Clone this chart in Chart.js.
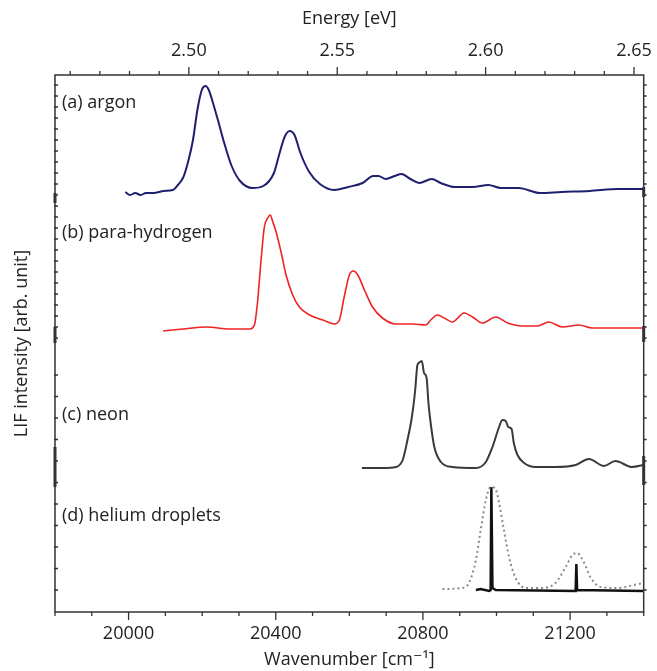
<!DOCTYPE html>
<html><head><meta charset="utf-8">
<script src="https://cdn.jsdelivr.net/npm/chart.js@4"></script>
<style>html,body{margin:0;padding:0;background:#fff;}#wrap{width:657px;height:671px;position:relative;}</style>
</head><body><div id="wrap"><canvas id="c"></canvas></div>
<script>
// ---- data (wavenumber in cm^-1, intensity in arb. units incl. vertical offset) ----
const argonWn = [19991,20004,20018,20033,20047,20067,20096,20120,20134,20149,20163,20175,20187,20199,20209,20218,20231,20245,20260,20279,20303,20337,20366,20395,20409,20424,20438,20451,20467,20491,20520,20559,20597,20636,20665,20679,20699,20723,20742,20766,20790,20824,20848,20887,20935,20978,21012,21060,21118,21176,21253,21331,21398];
const argonI  = [408,405,407,405,407,407,409,410,415,423,440,460,490,510,514,510,495,477,457,435,419,412,414,427,445,463,469,465,447,428,416,410,413,417,424,424,421,424,426,421,417,421,417,413,413,415,412,412,407,408,409,411,411];

const pH2Wn = [20094,20148,20211,20275,20329,20342,20351,20360,20369,20378,20385,20392,20401,20415,20428,20446,20464,20492,20528,20559,20573,20586,20600,20611,20623,20641,20663,20690,20727,20772,20808,20821,20840,20858,20880,20912,20935,20962,20998,21030,21070,21111,21142,21179,21224,21260,21323,21395];
const pH2I  = [269,271,273,271,271,275,300,340,373,382,385,378,368,347,325,305,293,285,280,276,280,303,325,329,325,310,293,282,276,276,275,280,285,282,278,287,283,277,283,277,274,274,278,273,275,272,272,272];

const neonWn = [20634,20690,20727,20745,20758,20770,20779,20785,20792,20797,20803,20810,20815,20821,20831,20849,20880,20944,20971,20989,21007,21016,21025,21032,21041,21047,21057,21075,21106,21160,21215,21251,21292,21323,21368,21400];
const neonI  = [132,132,133,140,160,183,210,235,238,239,227,222,197,177,153,138,133,132,138,153,173,180,179,173,171,157,145,137,133,133,135,141,134,139,133,135];

const heDotWn = [20853,20907,20925,20944,20957,20971,20984,20996,21007,21020,21034,21052,21079,21124,21160,21188,21206,21219,21237,21255,21283,21332,21373,21400];
const heDotI  = [11,12,17,40,70,100,113,112,97,70,43,22,12,12,17,33,45,47,38,23,13,12,15,17];

const heWn = [20944,20957,20980,20984,20986,20989,20998,21215,21217,21219,21400];
const heI  = [10,11,9,10,113,12,10,9,36,10,9];

const panelLabels = ['(a) argon','(b) para-hydrogen','(c) neon','(d) helium droplets'];
const panelLabelY = [497,367,185,84];

const xTicks = [20000,20400,20800,21200];
const eTicks = [2.50,2.55,2.60,2.65];
const EV_TO_CM = 8065.54;
const X_MIN = 19800, X_MAX = 21400;

const pts = (xs, ys) => xs.map((x,i)=>({x, y: ys[i]}));

Chart.defaults.font.family = "'Open Sans', 'DejaVu Sans', sans-serif";
Chart.defaults.color = '#222';

const frame = {
  id: 'frame',
  afterDraw(chart) {
    const {ctx, chartArea: a, scales} = chart;
    const xs = scales.x, xt = scales.x2, ys = scales.y;
    ctx.save();
    ctx.strokeStyle = '#333';
    ctx.lineWidth = 1.5;
    ctx.strokeRect(a.left, a.top, a.right - a.left, a.bottom - a.top);
    ctx.lineWidth = 1.3;
    ctx.beginPath();
    for (let v = X_MIN; v <= X_MAX; v += 100) {
      const x = xs.getPixelForValue(v);
      const L = v % 400 === 0 ? 8 : 4;
      ctx.moveTo(x, a.bottom); ctx.lineTo(x, a.bottom + L);
    }
    for (let k = 246; k <= 265; k++) {
      const x = xt.getPixelForValue(k / 100);
      const L = k % 5 === 0 ? 8 : 4;
      ctx.moveTo(x, a.top); ctx.lineTo(x, a.top - L);
    }
    // y minor ticks
    const yt = [];
    for (let p = a.top + 10; p < a.top + 270; p += 11) yt.push(p);
    for (let p = a.top + 300; p < a.bottom - 5; p += 21.5) yt.push(p);
    yt.forEach(p => {
      ctx.moveTo(a.left - 1, p); ctx.lineTo(a.left + 3, p);
      ctx.moveTo(a.right, p); ctx.lineTo(a.right + 3, p);
    });
    ctx.stroke();
    // thicker overlapping-axis segments
    ctx.lineWidth = 3;
    ctx.beginPath();
    [[407,397],[273,257],[153,113]].forEach(([v1,v2]) => {
      ctx.moveTo(a.left, ys.getPixelForValue(v1)); ctx.lineTo(a.left, ys.getPixelForValue(v2));
    });
    [[413,403],[274,258],[144,115]].forEach(([v1,v2]) => {
      ctx.moveTo(a.right, ys.getPixelForValue(v1)); ctx.lineTo(a.right, ys.getPixelForValue(v2));
    });
    ctx.stroke();
    // panel labels
    ctx.fillStyle = '#222';
    ctx.font = "18px 'Open Sans', sans-serif";
    ctx.textBaseline = 'middle';
    ctx.textAlign = 'left';
    panelLabels.forEach((t, i) => ctx.fillText(t, a.left + 7, ys.getPixelForValue(panelLabelY[i])));
    ctx.restore();
  }
};

const lineBase = {pointRadius: 0, fill: false, cubicInterpolationMode: 'monotone', tension: 0.4};

new Chart(document.getElementById('c'), {
  type: 'line',
  data: {
    datasets: [
      {...lineBase, label: 'argon', data: pts(argonWn, argonI), borderColor: '#1f1f70', borderWidth: 2},
      {...lineBase, label: 'para-hydrogen', data: pts(pH2Wn, pH2I), borderColor: '#f02222', borderWidth: 1.6},
      {...lineBase, label: 'neon', data: pts(neonWn, neonI), borderColor: '#3a3a3a', borderWidth: 2},
      {...lineBase, label: 'helium droplets (sim)', data: pts(heDotWn, heDotI), borderColor: '#8a8a8a', borderWidth: 2, borderDash: [2,3]},
      {pointRadius: 0, fill: false, tension: 0, label: 'helium droplets', data: pts(heWn, heI), borderColor: '#111', borderWidth: 2.5}
    ]
  },
  options: {
    responsive: true,
    maintainAspectRatio: false,
    animation: false,
    layout: {padding: {left: 0, right: 12, top: 0, bottom: 0}},
    plugins: {legend: {display: false}, tooltip: {enabled: false}},
    scales: {
      x: {
        type: 'linear', position: 'bottom', min: X_MIN, max: X_MAX,
        afterBuildTicks: s => { s.ticks = xTicks.map(v => ({value: v})); },
        afterFit: s => { s.height = 59; },
        ticks: {font: {size: 18}, padding: 3, maxRotation: 0, autoSkip: false, callback: v => String(v)},
        grid: {display: true, drawOnChartArea: false, drawTicks: true, tickLength: 8, color: 'rgba(0,0,0,0)', tickColor: 'rgba(0,0,0,0)'},
        border: {display: false},
        title: {display: true, text: 'Wavenumber [cm⁻¹]', font: {size: 18}, padding: {top: 0, bottom: 0}}
      },
      x2: {
        type: 'linear', position: 'top', min: X_MIN / EV_TO_CM, max: X_MAX / EV_TO_CM,
        afterBuildTicks: s => { s.ticks = eTicks.map(v => ({value: v})); },
        afterFit: s => { s.height = 75; },
        ticks: {font: {size: 18}, padding: 5, maxRotation: 0, autoSkip: false, callback: v => Number(v).toFixed(2)},
        grid: {display: true, drawOnChartArea: false, drawTicks: true, tickLength: 8, color: 'rgba(0,0,0,0)', tickColor: 'rgba(0,0,0,0)'},
        border: {display: false},
        title: {display: true, text: 'Energy [eV]', font: {size: 18}, padding: {top: 8, bottom: 0}}
      },
      y: {
        type: 'linear', position: 'left', min: -12, max: 525,
        afterFit: s => { s.width = 55; },
        ticks: {display: false},
        grid: {display: false},
        border: {display: false},
        title: {display: true, text: 'LIF intensity [arb. unit]', font: {size: 18}, padding: {top: 11, bottom: 0}}
      }
    }
  },
  plugins: [frame]
});
</script>
</body></html>
